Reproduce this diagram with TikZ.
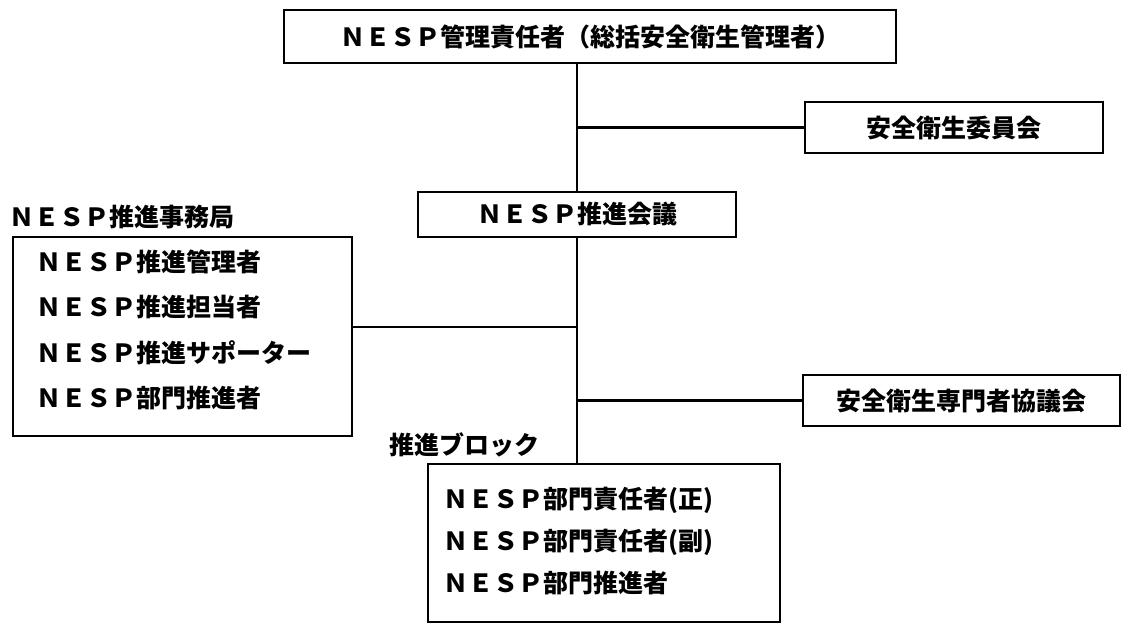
\documentclass[tikz,border=0pt]{standalone}
\usepackage{fontspec}
\setmainfont{Noto Sans CJK JP}
\usepackage{tikz}

\begin{document}
\begin{tikzpicture}[x=1pt,y=-1pt,line width=2.5pt,
    font=\fontsize{25pt}{30pt}\selectfont\bfseries]
    \useasboundingbox (0,0) rectangle (1122,624);

    \begin{scope}[every node/.style={rectangle,draw,inner sep=0pt}]
        \node[minimum width=612pt,minimum height=53pt] (mgr) at (590,36.5) {ＮＥＳＰ管理責任者（総括安全衛生管理者）};
        \node[minimum width=298pt,minimum height=51pt] (iin) at (954,127.5) {安全衛生委員会};
        \node[minimum width=318pt,minimum height=45pt] (kaigi) at (577,214.5) {ＮＥＳＰ推進会議};
        \node[minimum width=317pt,minimum height=51pt] (senmon) at (961.5,400.5) {安全衛生専門者協議会};
        \node[minimum width=339pt,minimum height=199pt] (jimu) at (182.5,336.5) {};
        \node[minimum width=352pt,minimum height=158pt] (blk) at (604,543) {};
    \end{scope}

    \begin{scope}[every node/.style={anchor=west,inner sep=0pt}]
        \node (jimut) at (8,217) {ＮＥＳＰ推進事務局};
        \node (j1) at (35,262) {ＮＥＳＰ推進管理者};
        \node (j2) at (35,307) {ＮＥＳＰ推進担当者};
        \node (j3) at (35,353) {ＮＥＳＰ推進サポーター};
        \node (j4) at (35,398) {ＮＥＳＰ部門推進者};
        \node (blkt) at (388,445) {推進ブロック};
        \node (b1) at (442,500) {ＮＥＳＰ部門責任者(正)};
        \node (b2) at (442,542) {ＮＥＳＰ部門責任者(副)};
        \node (b3) at (442,583) {ＮＥＳＰ部門推進者};
    \end{scope}

    \coordinate (jl) at (352,327);

    \begin{scope}
        \path [-] (mgr.south -| kaigi.north) edge (kaigi.north);
        \path [-] (kaigi.south) edge (kaigi.south |- blk.north);
        \path [-] (iin.west) edge (iin.west -| kaigi.center);
        \path [-] (senmon.west) edge (senmon.west -| kaigi.center);
        \path [-] (jl) edge (jl -| kaigi.center);
    \end{scope}
\end{tikzpicture}
\end{document}
